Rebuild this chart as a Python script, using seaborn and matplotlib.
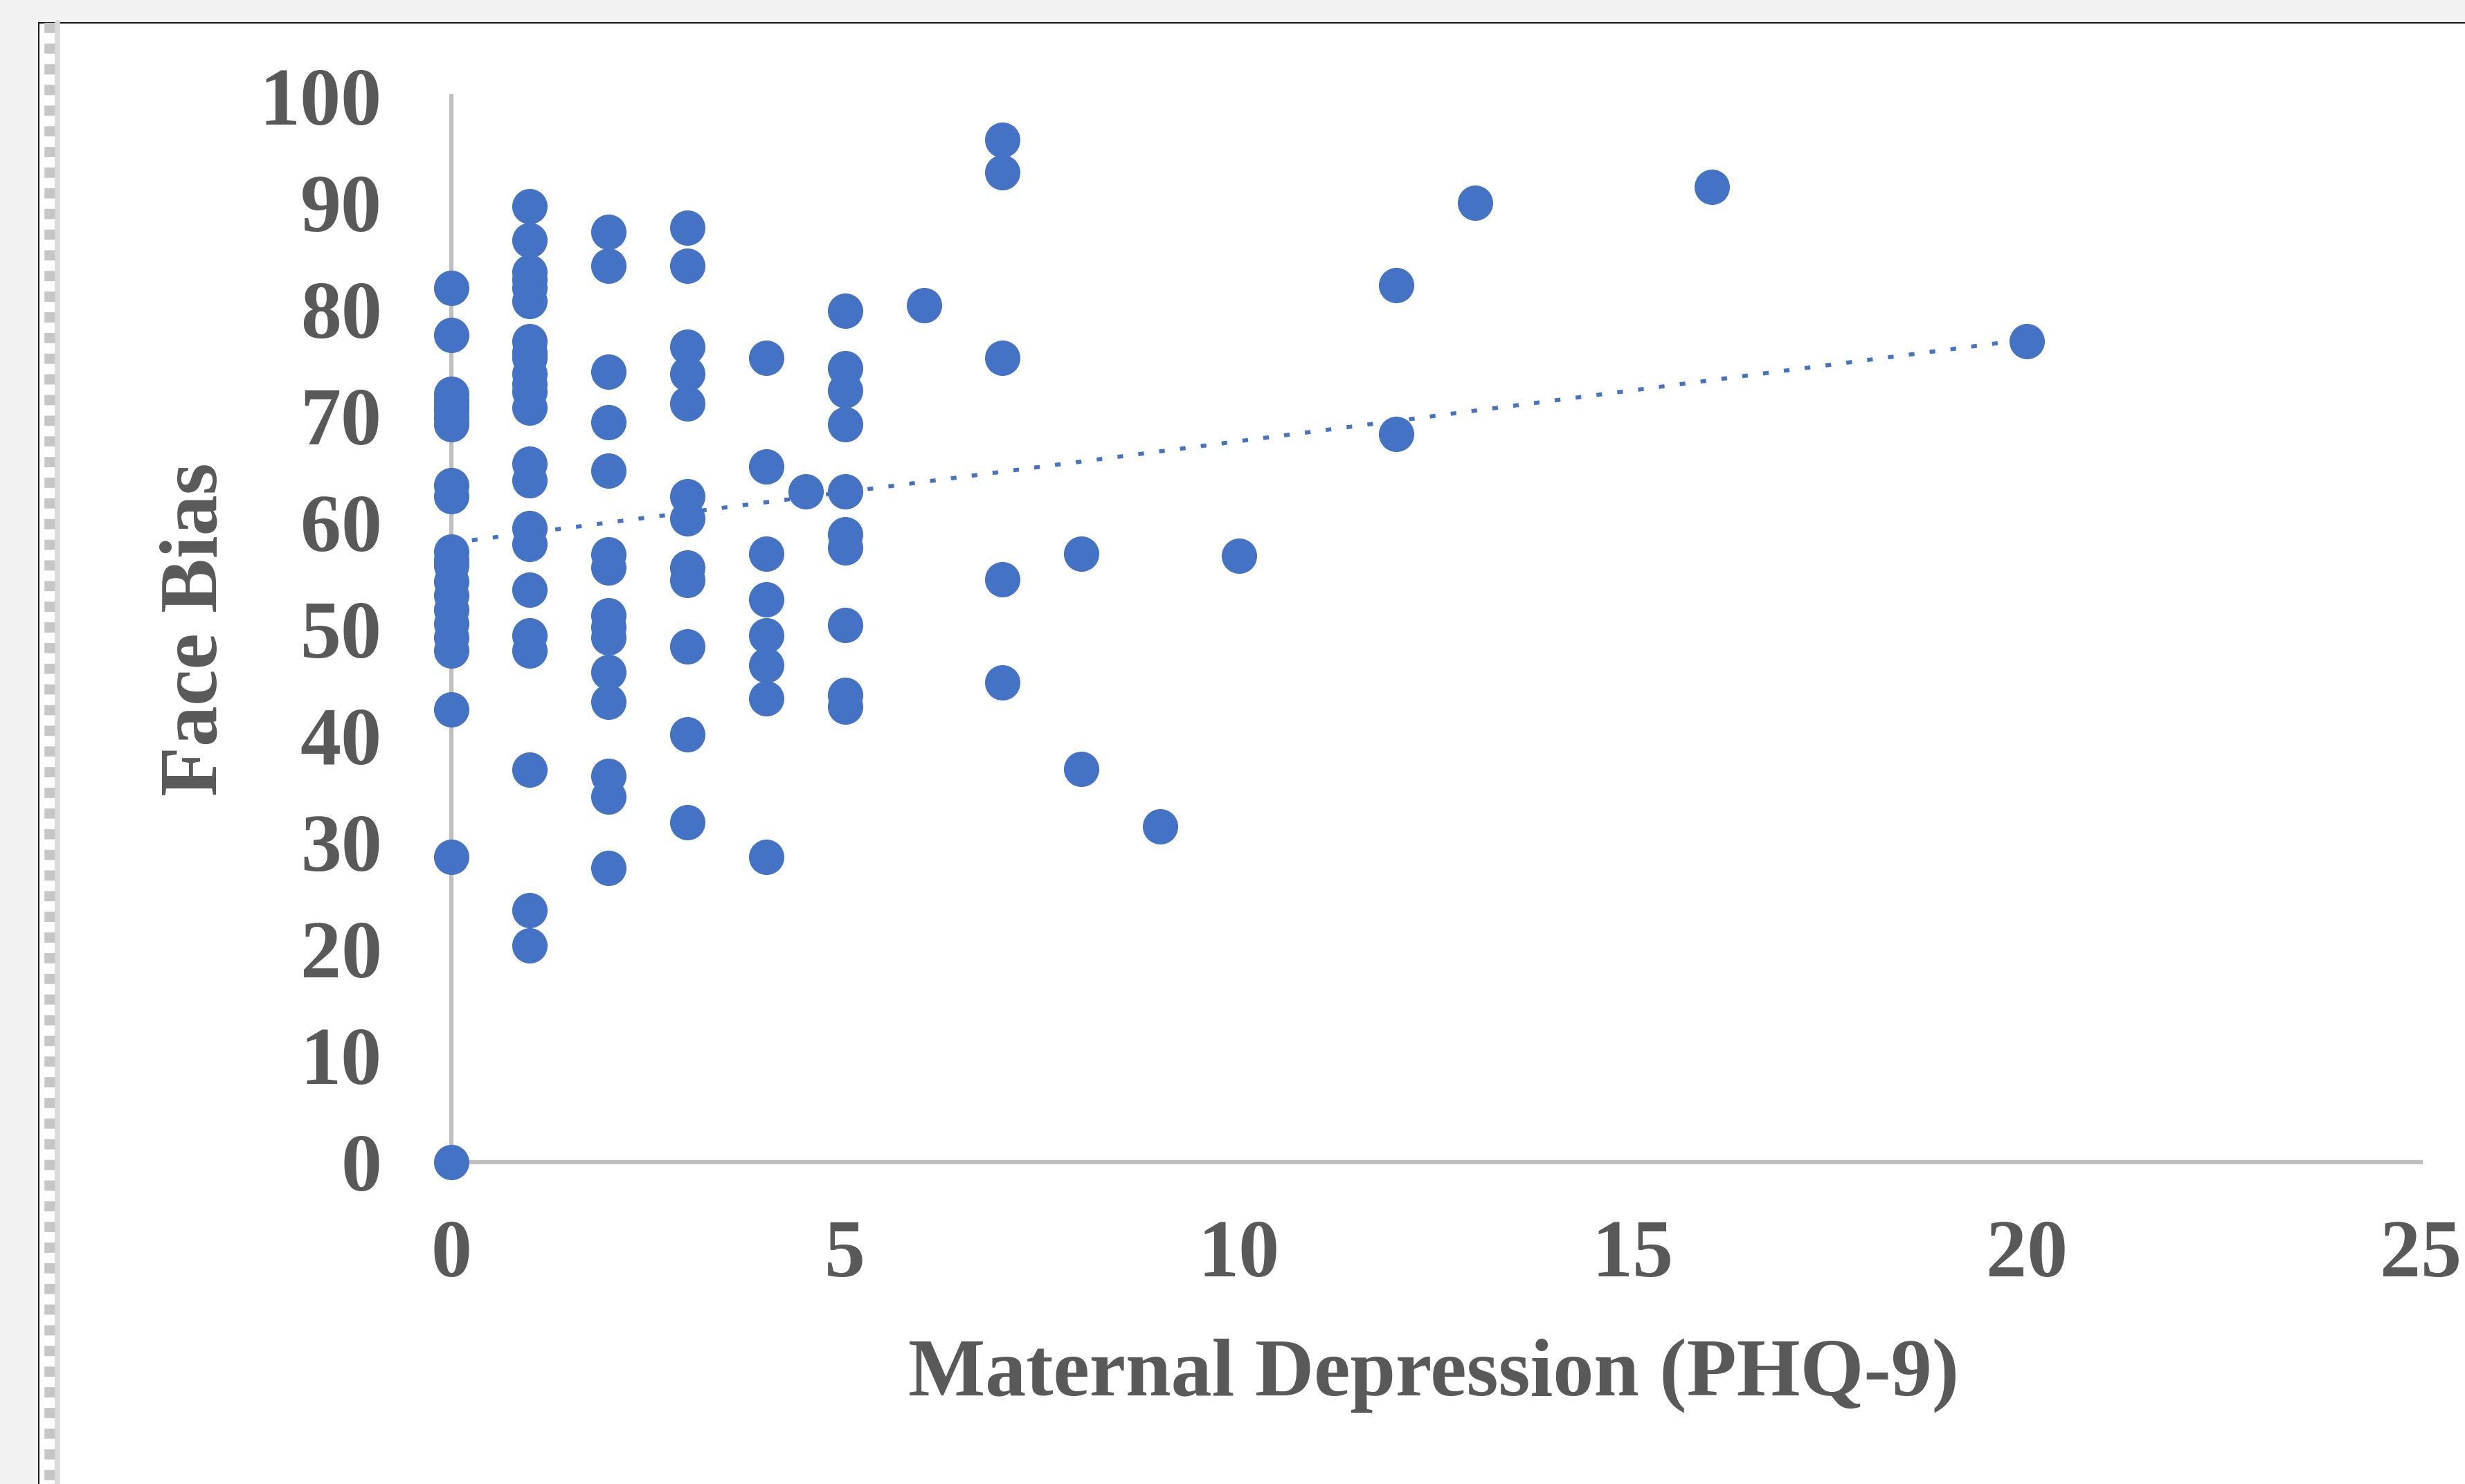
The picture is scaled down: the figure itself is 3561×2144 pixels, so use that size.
import numpy as np
import pandas as pd
import matplotlib
matplotlib.use('Agg')
import matplotlib.pyplot as plt
import seaborn as sns
from matplotlib.lines import Line2D
from matplotlib.patches import Rectangle

# Face Bias values, grouped by PHQ-9 score
# (dense columns include a few overlapping markers)
bias_phq0 = [82.0, 77.6, 72.1, 71.5, 70.9, 70.5, 69.9, 69.2, 63.5, 62.5, 57.3, 56.5,
             56.0, 54.5, 53.2, 51.8, 50.5, 49.2, 48.0, 42.5, 28.6, 0.0]
bias_phq1 = [89.7, 86.5, 83.5, 82.8, 82.0, 80.8, 77.0, 76.0, 75.5, 74.0, 73.0, 72.3,
             70.8, 65.5, 64.0, 59.5, 58.0, 53.7, 49.4, 48.0, 36.8, 23.6, 20.3]
bias_phq2 = [87.3, 84.1, 74.2, 69.4, 64.9, 57.0, 55.8, 51.3, 50.2, 49.2, 46.0, 43.2,
             36.2, 34.3, 27.6]
bias_phq3 = [87.7, 84.1, 76.5, 74.0, 71.2, 62.5, 60.4, 55.8, 54.6, 48.4, 40.1, 31.9]
bias_phq4 = [75.5, 65.3, 57.1, 52.8, 49.4, 46.6, 43.5, 28.6]
bias_phq4_5 = [62.9]
bias_phq5 = [79.9, 74.5, 72.4, 69.2, 62.9, 58.9, 57.7, 50.4, 43.8, 42.7]
bias_phq6 = [80.4]
bias_phq7 = [95.9, 92.9, 75.5, 54.7, 45.0]
bias_phq8 = [57.1, 36.9]
bias_phq9 = [31.5]
bias_phq10 = [56.9]
bias_phq12 = [82.3, 68.3]
bias_phq13 = [90.0]
bias_phq16 = [91.5]
bias_phq20 = [77.0]

phq_scores = [0, 1, 2, 3, 4, 4.5, 5, 6, 7, 8, 9, 10, 12, 13, 16, 20]
bias_groups = [bias_phq0, bias_phq1, bias_phq2, bias_phq3, bias_phq4, bias_phq4_5,
               bias_phq5, bias_phq6, bias_phq7, bias_phq8, bias_phq9, bias_phq10,
               bias_phq12, bias_phq13, bias_phq16, bias_phq20]

x_ticks = [0, 5, 10, 15, 20, 25]
y_ticks = [0, 10, 20, 30, 40, 50, 60, 70, 80, 90, 100]

rows = []
for score, vals in zip(phq_scores, bias_groups):
    for v in vals:
        rows.append({'phq9': score, 'face_bias': v})
df = pd.DataFrame(rows)

blue = '#4472C4'
text_gray = '#595959'
axis_gray = '#BFBFBF'

sns.set_style('white')
plt.rcParams['font.family'] = ['Liberation Serif', 'DejaVu Serif']
plt.rcParams['font.weight'] = 'bold'

fig = plt.figure(figsize=(35.61, 21.44), dpi=100, facecolor='#F2F2F2')

# chart frame (white area, black border, dotted selection strip)
fig.patches.append(Rectangle((0.01567, 0), 1, 0.9847, transform=fig.transFigure,
                             facecolor='white', edgecolor='none', zorder=-5))
fig.add_artist(Line2D([0.01567, 1], [0.9847, 0.9847], transform=fig.transFigure,
                      color='black', lw=1.3))
fig.add_artist(Line2D([0.01567, 0.01567], [0, 0.9847], transform=fig.transFigure,
                      color='black', lw=1.3))
fig.add_artist(Line2D([0.02014, 0.02014], [0.9847, 0], transform=fig.transFigure,
                      color='#C6C6C6', lw=11.2, dashes=(0.95, 0.97), solid_capstyle='butt',
                      dash_capstyle='butt'))
fig.add_artist(Line2D([0.02337, 0.02337], [0, 0.9847], transform=fig.transFigure,
                      color='#D9D9D9', lw=5.4))

ax = fig.add_axes([0.183, 0.217, 0.799, 0.718])
ax.set_facecolor('none')

sns.regplot(data=df, x='phq9', y='face_bias', ax=ax, ci=None, truncate=True,
            color=blue,
            scatter_kws=dict(s=1354, linewidths=0, alpha=1, clip_on=False, zorder=3),
            line_kws=dict(lw=4.2, linestyle=(0, (1.4, 3.8)), zorder=2))

ax.set_xlim(0, 25)
ax.set_ylim(0, 100)
ax.set_xticks(x_ticks)
ax.set_yticks(y_ticks)
ax.tick_params(length=0, labelsize=85, labelcolor=text_gray)
ax.tick_params(axis='x', pad=60)
ax.tick_params(axis='y', pad=72)
for lab in ax.get_xticklabels() + ax.get_yticklabels():
    lab.set_fontweight('bold')

for side in ['top', 'right']:
    ax.spines[side].set_visible(False)
for side in ['left', 'bottom']:
    ax.spines[side].set_color(axis_gray)
    ax.spines[side].set_linewidth(4.5)
    ax.spines[side].set_zorder(1)

ax.set_xlabel('Maternal Depression (PHQ-9)', fontsize=85, fontweight='bold', color=text_gray)
ax.set_ylabel('Face Bias', fontsize=85, fontweight='bold', color=text_gray)
ax.xaxis.set_label_coords(0.499, -0.2006)
ax.xaxis.label.set_va('center')
ax.yaxis.set_label_coords(-0.1293, 0.5)
ax.yaxis.label.set_va('center')

plt.savefig('out.png', dpi=100, facecolor=fig.get_facecolor())
